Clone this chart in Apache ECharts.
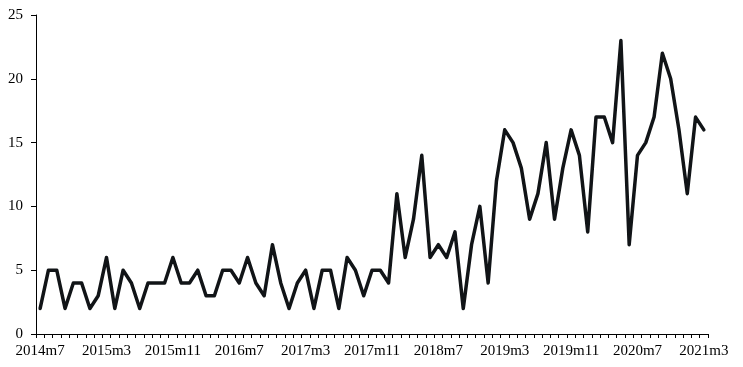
<!DOCTYPE html>
<html>
<head>
<meta charset="utf-8">
<script src="https://cdn.jsdelivr.net/npm/echarts@6/dist/echarts.min.js"></script>
<style>html,body{margin:0;padding:0;background:#fff}#c{width:743px;height:367px}</style>
</head>
<body>
<div id="c"></div>
<script>
const startYear = 2014, startMonth = 7, nMonths = 81;
const categories = [];
for (let i = 0; i < nMonths; i++) {
  const m = startMonth - 1 + i;
  categories.push((startYear + Math.floor(m / 12)) + 'm' + (m % 12 + 1));
}
const values = [
  2, 5, 5, 2, 4, 4, 2, 3, 6, 2, 5, 4, 2, 4, 4, 4, 6, 4, 4, 5, 3, 3, 5, 5, 4, 6,
  4, 3, 7, 4, 2, 4, 5, 2, 5, 5, 2, 6, 5, 3, 5, 5, 4, 11, 6, 9, 14, 6, 7, 6, 8, 2,
  7, 10, 4, 12, 16, 15, 13, 9, 11, 15, 9, 13, 16, 14, 8, 17, 17, 15, 23, 7, 14, 15,
  17, 22, 20, 16, 11, 17, 16
];
const yTicks = [0, 5, 10, 15, 20, 25];

const font = 'Liberation Serif, Times New Roman, serif';
const chart = echarts.init(document.getElementById('c'), null, {renderer: 'canvas'});
chart.setOption({
  animation: false,
  backgroundColor: '#fff',
  grid: {left: 36, right: 35, top: 15, bottom: 33, containLabel: false},
  xAxis: {
    type: 'category',
    data: categories,
    boundaryGap: true,
    axisLine: {lineStyle: {color: '#000', width: 1}},
    axisTick: {show: true, length: 4, interval: 0, alignWithLabel: false, lineStyle: {color: '#000'}},
    axisLabel: {interval: 7, color: '#000', fontFamily: font, fontSize: 15, margin: 10},
    splitLine: {show: false}
  },
  yAxis: {
    type: 'value',
    min: yTicks[0],
    max: yTicks[yTicks.length - 1],
    interval: 5,
    axisLine: {show: true, lineStyle: {color: '#000', width: 1}},
    axisTick: {show: true, length: 5, lineStyle: {color: '#000'}},
    axisLabel: {color: '#000', fontFamily: font, fontSize: 15, margin: 13},
    splitLine: {show: false}
  },
  series: [{
    type: 'line',
    data: values,
    showSymbol: false,
    symbol: 'none',
    lineStyle: {color: '#111417', width: 3.5, join: 'round', cap: 'round'},
    itemStyle: {color: '#111417'}
  }]
});
</script>
</body>
</html>
